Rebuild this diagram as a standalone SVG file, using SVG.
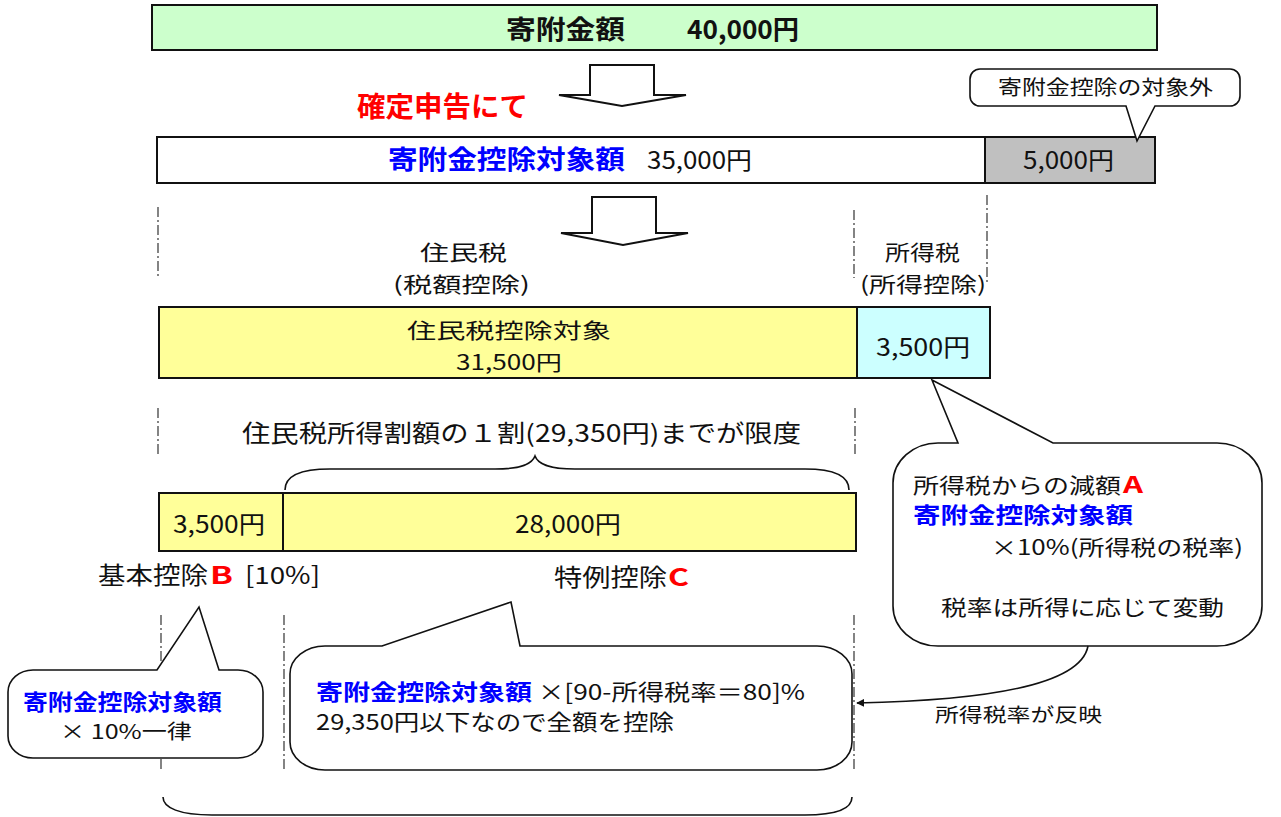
<svg xmlns="http://www.w3.org/2000/svg" width="1281" height="817" viewBox="0 0 1281 817">
<style>
text{font-family:"Noto Sans CJK JP","Noto Sans",sans-serif;fill:#111;}
.b{font-weight:bold;}
.blue{fill:#0000ff;font-weight:bold;}
.red{fill:#ff0000;font-weight:bold;}
.box{stroke:#111;stroke-width:2;}
.dd{stroke:#333;stroke-width:1.2;stroke-dasharray:10 3 2 3;fill:none;}
.co{fill:#fff;stroke:#111;stroke-width:1.6;}
.arr{fill:#fff;stroke:#111;stroke-width:2;stroke-linejoin:miter;}
.line{fill:none;stroke:#111;stroke-width:1.6;}
</style>
<defs>
<marker id="ah" viewBox="0 0 10 10" refX="9" refY="5" markerWidth="8" markerHeight="8" orient="auto" markerUnits="userSpaceOnUse">
<path d="M0,0 L10,5 L0,10 Z" fill="#111"/>
</marker>
</defs>

<g id="guides">
<line class="dd" x1="158" y1="207" x2="158" y2="278"/>
<line class="dd" x1="854" y1="210" x2="854" y2="278"/>
<line class="dd" x1="987" y1="195" x2="987" y2="282"/>
<line class="dd" x1="158" y1="408" x2="158" y2="456"/>
<line class="dd" x1="855" y1="408" x2="855" y2="456"/>
<line class="dd" x1="161" y1="615" x2="161" y2="770"/>
<line class="dd" x1="284" y1="615" x2="284" y2="770"/>
<line class="dd" x1="854" y1="615" x2="854" y2="770"/>
</g>

<g id="donation-total">
<rect class="box" x="152" y="5" width="1005" height="45" fill="#ccffcc"/>
<text class="b" x="506" y="39" font-size="26" textLength="119" lengthAdjust="spacingAndGlyphs">寄附金額</text>
<text class="b" x="687" y="39" font-size="26" textLength="112" lengthAdjust="spacingAndGlyphs">40,000円</text>
</g>

<g id="arrow-1">
<path class="arr" d="M590,65 L654,65 L654,95 L686,95 L622,106 L559,95 L590,95 Z"/>
</g>
<text class="red" x="357" y="117" font-size="28" textLength="171" lengthAdjust="spacingAndGlyphs">確定申告にて</text>

<g id="deduction-target">
<rect class="box" x="157" y="137" width="828" height="46" fill="#ffffff"/>
<rect class="box" x="985" y="137" width="170" height="46" fill="#c0c0c0"/>
<text class="blue" x="388" y="169" font-size="26" textLength="237" lengthAdjust="spacingAndGlyphs">寄附金控除対象額</text>
<text x="647" y="169" font-size="24" textLength="105" lengthAdjust="spacingAndGlyphs">35,000円</text>
<text x="1023" y="169" font-size="24" textLength="91" lengthAdjust="spacingAndGlyphs">5,000円</text>
</g>

<g id="callout-excluded">
<path class="co" d="M980,69 L1230,69 A10,10 0 0 1 1240,79 L1240,96 A10,10 0 0 1 1230,106 L1155,106 L1137,141 L1126,106 L980,106 A10,10 0 0 1 970,96 L970,79 A10,10 0 0 1 980,69 Z"/>
<text x="998" y="95" font-size="20" textLength="215" lengthAdjust="spacingAndGlyphs">寄附金控除の対象外</text>
</g>

<g id="arrow-2">
<path class="arr" d="M592,197 L656,197 L656,233 L688,233 L623,245 L561,233 L592,233 Z"/>
</g>

<g id="labels-tax">
<text x="420" y="260" font-size="21" textLength="87" lengthAdjust="spacingAndGlyphs">住民税</text>
<text x="393" y="292" font-size="21" textLength="137" lengthAdjust="spacingAndGlyphs">(税額控除)</text>
<text x="885" y="260" font-size="21" textLength="75" lengthAdjust="spacingAndGlyphs">所得税</text>
<text x="860" y="292" font-size="21" textLength="126" lengthAdjust="spacingAndGlyphs">(所得控除)</text>
</g>

<g id="resident-tax-target">
<rect class="box" x="159" y="307" width="698" height="71" fill="#ffff99"/>
<text x="407" y="338" font-size="21" textLength="204" lengthAdjust="spacingAndGlyphs">住民税控除対象</text>
<text x="456" y="370" font-size="21" textLength="106" lengthAdjust="spacingAndGlyphs">31,500円</text>
</g>
<g id="income-tax-target">
<rect class="box" x="857" y="307" width="133" height="71" fill="#ccffff"/>
<text x="876" y="356" font-size="24" textLength="94" lengthAdjust="spacingAndGlyphs">3,500円</text>
</g>

<text x="242" y="442" font-size="24" textLength="559" lengthAdjust="spacingAndGlyphs">住民税所得割額の１割(29,350円)までが限度</text>

<g id="brace-top">
<path class="line" d="M285,490 C285,476 300,469 330,469 L495,469 C522,469 532,464 535,456 C538,464 548,469 575,469 L805,469 C835,469 849,477 849,490"/>
</g>

<g id="basic-deduction">
<rect class="box" x="159" y="493" width="124" height="58" fill="#ffff99"/>
<text x="173" y="533" font-size="24" textLength="92" lengthAdjust="spacingAndGlyphs">3,500円</text>
</g>
<g id="special-deduction">
<rect class="box" x="283" y="493" width="573" height="58" fill="#ffff99"/>
<text x="515" y="533" font-size="24" textLength="106" lengthAdjust="spacingAndGlyphs">28,000円</text>
</g>

<text x="98" y="584" font-size="24" textLength="110" lengthAdjust="spacingAndGlyphs">基本控除</text>
<text class="red" x="210" y="584" font-size="24" textLength="23" lengthAdjust="spacingAndGlyphs" font-family="Liberation Sans, sans-serif">B</text>
<text x="245" y="584" font-size="24" textLength="75" lengthAdjust="spacingAndGlyphs" font-family="Liberation Sans, sans-serif">[10%]</text>
<text x="554" y="586" font-size="24" textLength="113" lengthAdjust="spacingAndGlyphs">特例控除</text>
<text class="red" x="668" y="586" font-size="24" textLength="21" lengthAdjust="spacingAndGlyphs" font-family="Liberation Sans, sans-serif">C</text>

<g id="callout-A">
<path class="co" d="M938,443 L958,443 L932,380 L1053,443 L1217,443 A45,40 0 0 1 1262,483 L1262,606 A45,40 0 0 1 1217,646 L938,646 A45,40 0 0 1 893,606 L893,483 A45,40 0 0 1 938,443 Z"/>
<text x="913" y="493" font-size="21" textLength="208" lengthAdjust="spacingAndGlyphs">所得税からの減額</text>
<text class="red" x="1123" y="493" font-size="22" textLength="20" lengthAdjust="spacingAndGlyphs" font-family="Liberation Sans, sans-serif">A</text>
<text class="blue" x="913" y="523" font-size="22" textLength="220" lengthAdjust="spacingAndGlyphs">寄附金控除対象額</text>
<text x="991" y="555" font-size="21" textLength="252" lengthAdjust="spacingAndGlyphs">×10%(所得税の税率)</text>
<text x="941" y="615" font-size="21" textLength="283" lengthAdjust="spacingAndGlyphs">税率は所得に応じて変動</text>
</g>

<g id="callout-B">
<path class="co" d="M33,670 L157,670 L199,607 L219,670 L238,670 A25,22 0 0 1 263,692 L263,736 A25,22 0 0 1 238,758 L33,758 A25,22 0 0 1 8,736 L8,692 A25,22 0 0 1 33,670 Z"/>
<text class="blue" x="23" y="710" font-size="22" textLength="199" lengthAdjust="spacingAndGlyphs">寄附金控除対象額</text>
<text x="60" y="739" font-size="20" textLength="132" lengthAdjust="spacingAndGlyphs">×  10%一律</text>
</g>

<g id="callout-C">
<path class="co" d="M325,646 L382,646 L511,602 L520,646 L817,646 A35,28 0 0 1 852,674 L852,742 A35,28 0 0 1 817,770 L325,770 A35,28 0 0 1 290,742 L290,674 A35,28 0 0 1 325,646 Z"/>
<text class="blue" x="316" y="700" font-size="22" textLength="216" lengthAdjust="spacingAndGlyphs">寄附金控除対象額</text>
<text x="538" y="700" font-size="22" textLength="267" lengthAdjust="spacingAndGlyphs">×[90-所得税率＝80]%</text>
<text x="316" y="730" font-size="22" textLength="358" lengthAdjust="spacingAndGlyphs">29,350円以下なので全額を控除</text>
</g>

<g id="connectors">
<path class="line" d="M1088,646 C1080,690 960,701 857,703" marker-end="url(#ah)"/>
</g>
<text x="935" y="722" font-size="19" textLength="167" lengthAdjust="spacingAndGlyphs">所得税率が反映</text>

<g id="brace-bottom">
<path class="line" d="M163,797 C163,808 180,815 212,815 L805,815 C838,815 852,808 852,797"/>
</g>
</svg>
